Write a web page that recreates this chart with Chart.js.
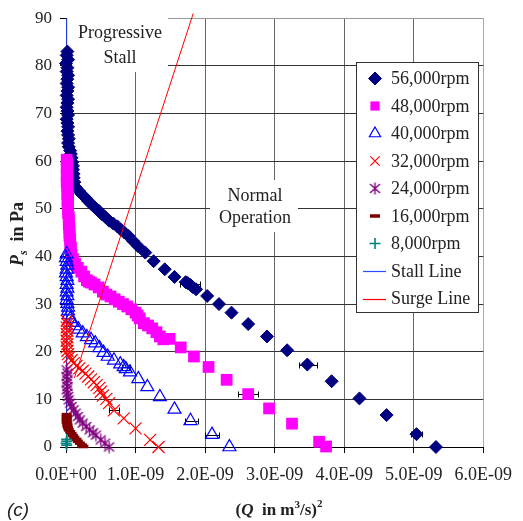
<!DOCTYPE html>
<html>
<head>
<meta charset="utf-8">
<script src="https://cdn.jsdelivr.net/npm/chart.js@4.4.1/dist/chart.umd.min.js"></script>
<style>
html, body { margin: 0; padding: 0; background: #fff; }
canvas { display: block; }
</style>
</head>
<body>
<canvas id="chart" width="523" height="521"></canvas>
<script>
// Q^2 in units of 1E-09 (m3/s)^2, Ps in Pa
const rpm56 = [[0.02,83],[0.01,82.2],[0.03,81.3],[0.00,80.5],[0.02,79.6],[0.01,78.8],[0.03,78],[0.02,77.2],[0.01,76.3],[0.03,75.5],[0.02,74.7],[0.01,73.8],[0.03,73],[0.02,72.2],[0.01,71.3],[0.02,70.5],[0.03,69.7],[0.01,68.8],[0.02,68],[0.03,67.2],[0.02,66.3],[0.03,65.5],[0.04,64.7],[0.03,63.8],[0.04,63],[0.06,62.2],[0.07,61.5],[0.08,60.7],[0.09,59.8],[0.10,59],[0.10,58.2],[0.11,57.3],[0.11,56.5],[0.12,55.6],[0.14,54.5],[0.19,53.7],[0.23,53],[0.28,52.3],[0.32,51.6],[0.37,50.9],[0.42,50.2],[0.47,49.6],[0.52,48.8],[0.57,48.2],[0.62,47.5],[0.68,46.9],[0.74,46.3],[0.79,45.6],[0.84,45],[0.90,44.3],[0.96,43.3],[1.04,42.1],[1.14,40.8],[1.26,39],[1.42,37.3],[1.56,35.7],[1.72,34.6],[1.75,34.4],[1.79,34],[1.82,33.6],[1.87,33.1],[2.03,31.7],[2.20,30],[2.38,28.2],[2.62,25.8],[2.89,23.2],[3.18,20.3],[3.47,17.3],[3.82,13.8],[4.22,10.2],[4.61,6.7],[5.04,2.7],[5.32,0]];
const rpm48 = [[0.01,60.3],[0.02,59.5],[0.01,58.7],[0.02,57.9],[0.01,57.1],[0.02,56.3],[0.01,55.5],[0.02,54.7],[0.02,53.9],[0.02,53.1],[0.03,52.3],[0.02,51.5],[0.03,50.7],[0.03,49.9],[0.03,49.1],[0.04,48.3],[0.04,47.5],[0.04,46.7],[0.05,45.9],[0.05,45.1],[0.05,44.3],[0.06,43.5],[0.06,42.7],[0.07,41.9],[0.07,41.1],[0.08,40.3],[0.10,39.4],[0.13,38.5],[0.17,37.6],[0.22,36.8],[0.26,35.8],[0.30,35],[0.33,34.7],[0.36,34.5],[0.41,34.1],[0.47,33.5],[0.53,32.6],[0.58,32],[0.64,31.6],[0.70,31],[0.76,30.5],[0.82,30],[0.88,29.5],[0.94,28.9],[1.00,28.2],[1.03,27.6],[1.06,27],[1.12,26],[1.18,25.5],[1.24,24.9],[1.30,24.1],[1.35,23.2],[1.40,22.6],[1.49,22.7],[1.65,20.9],[1.84,19],[2.05,16.8],[2.31,14.1],[2.62,11.1],[2.92,8.1],[3.25,4.9],[3.64,1.1],[3.74,0.1]];
const rpm40 = [[0.01,40.5],[0.00,39.7],[0.01,38.9],[0.02,38.1],[0.01,37.3],[0.00,36.5],[0.01,35.7],[0.02,34.9],[0.01,34.1],[0.02,33.3],[0.01,32.5],[0.02,31.7],[0.01,30.9],[0.02,30.1],[0.03,29.3],[0.03,28.5],[0.04,27.7],[0.06,26.9],[0.09,26.1],[0.13,25.4],[0.18,24.7],[0.24,23.9],[0.30,23.1],[0.36,22.5],[0.42,21.8],[0.48,20.8],[0.54,19.8],[0.60,19],[0.69,18.2],[0.78,17.4],[0.83,16.8],[0.86,16.4],[0.92,15.7],[1.04,14.3],[1.17,12.6],[1.35,10.5],[1.56,7.9],[1.79,5.5],[2.10,2.6],[2.35,0]];
const rpm32 = [[0.01,26.5],[0.02,25.8],[0.01,25.1],[0.02,24.4],[0.01,23.7],[0.02,23],[0.01,22.3],[0.02,21.6],[0.01,20.9],[0.02,20.2],[0.03,19.5],[0.05,18.9],[0.08,18.2],[0.11,17.6],[0.15,17],[0.19,16.5],[0.24,16],[0.28,15.4],[0.32,14.8],[0.36,14.2],[0.40,13.6],[0.44,13],[0.48,12.4],[0.50,11.6],[0.53,10.8],[0.58,10.1],[0.62,9.2],[0.69,7.7],[0.83,6],[1.00,3.9],[1.21,1.5],[1.33,0]];
const rpm24 = [[0.01,16.2],[0.02,15.5],[0.01,14.8],[0.02,14.1],[0.01,13.4],[0.02,12.7],[0.01,12],[0.02,11.3],[0.03,10.6],[0.04,9.9],[0.06,9.2],[0.08,8.5],[0.11,7.8],[0.14,7.1],[0.17,6.4],[0.20,5.7],[0.24,5],[0.29,4.3],[0.34,3.6],[0.39,3],[0.43,2.5],[0.50,1.5],[0.56,0.8],[0.62,0]];
const rpm16 = [[0.01,6.8],[0.01,6.4],[0.01,6],[0.01,5.6],[0.01,5.2],[0.02,4.8],[0.02,4.4],[0.03,4],[0.04,3.6],[0.06,3.2],[0.08,2.8],[0.10,2.4],[0.12,2],[0.15,1.6],[0.17,1.2],[0.20,0.8],[0.23,0.4],[0.25,0.1]];
const rpm8 = [[0.01,1.6],[0.01,1.2],[0.00,0.8],[0.01,0.4]];
const stallLine = [[0.01,0],[0.01,90]];
const surgeLine = [[0.12,14.5],[1.83,91]];
// [Q^2, Ps, half width of the bar]
const errorBars = [[1.78,34.3,0.14],[3.48,17.3,0.135],[2.62,11.1,0.14],[1.81,5.5,0.095],[0.69,7.7,0.07],[1.18,25.4,0.09],[0.86,16.8,0.06],[2.10,2.6,0.1],[5.04,2.7,0.08]];

const seriesLabels = ["56,000rpm","48,000rpm","40,000rpm","32,000rpm","24,000rpm","16,000rpm","8,000rpm","Stall Line","Surge Line"];
const xTickLabels = ["0.0E+00","1.0E-09","2.0E-09","3.0E-09","4.0E-09","5.0E-09","6.0E-09"];
const yTickLabels = ["0","10","20","30","40","50","60","70","80","90"];

function makeStar(color) {
    const c = document.createElement("canvas");
    c.width = 13; c.height = 13;
    const g = c.getContext("2d");
    g.strokeStyle = color;
    g.lineWidth = 1.4;
    g.beginPath();
    g.moveTo(6.5, 0.5); g.lineTo(6.5, 12.5);
    g.moveTo(1.5, 2); g.lineTo(11.5, 11);
    g.moveTo(11.5, 2); g.lineTo(1.5, 11);
    g.stroke();
    return c;
}

const toXY = arr => arr.map(d => ({ x: d[0], y: d[1] }));
const serif = "'Liberation Serif', 'Times New Roman', serif";
const ink = "#222";

const markers = [
    { data: rpm56, style: "rectRot", r: 6.5, bw: 1, color: "#000080", fill: "#000080" },
    { data: rpm48, style: "rect", r: 8.3, bw: 0, color: "#ff00ff", fill: "#ff00ff" },
    { data: rpm40, style: "triangle", r: 7.5, bw: 1.2, color: "#0000ff", fill: "rgba(0,0,0,0)" },
    { data: rpm32, style: "crossRot", r: 8.5, bw: 1.2, color: "#ff0000", fill: "#ff0000" },
    { data: rpm24, style: makeStar("#800080"), r: 6, bw: 1, color: "#800080", fill: "#800080" },
    { data: rpm16, style: "line", r: 5, bw: 3.5, color: "#800000", fill: "#800000" },
    { data: rpm8, style: "cross", r: 5.5, bw: 1.6, color: "#008080", fill: "#008080" }
];
const lineColors = ["#2a4dff", "#ff0000"];

const datasets = markers.map((m, i) => ({
    label: seriesLabels[i],
    data: toXY(m.data),
    showLine: false,
    clip: false,
    pointStyle: m.style,
    pointRadius: m.r,
    pointBorderWidth: m.bw,
    pointBorderColor: m.color,
    pointBackgroundColor: m.fill,
    order: 8 - i
}));
datasets.push({
    label: seriesLabels[7], type: "line", data: toXY(stallLine), showLine: true,
    borderColor: lineColors[0], borderWidth: 1, pointRadius: 0, fill: false, order: 9
});
datasets.push({
    label: seriesLabels[8], type: "line", data: toXY(surgeLine), showLine: true,
    borderColor: lineColors[1], borderWidth: 1, pointRadius: 0, fill: false, order: 0,
    clip: { left: 0, top: 6, right: 0, bottom: 0 }
});

// white boxes with the two region notes, and the error bars
const notesPlugin = {
    id: "notes",
    beforeDatasetsDraw(chart) {
        const ctx = chart.ctx;
        ctx.save();
        ctx.fillStyle = "#fff";
        ctx.fillRect(67, 17, 101, 55);
        ctx.fillRect(210, 180, 88, 52);
        ctx.fillStyle = ink;
        ctx.font = "18px " + serif;
        ctx.textAlign = "center";
        ctx.textBaseline = "alphabetic";
        ctx.fillText("Progressive", 120, 38);
        ctx.fillText("Stall", 120, 63);
        ctx.fillText("Normal", 255, 201);
        ctx.fillText("Operation", 255, 223);
        const xs = chart.scales.x, ys = chart.scales.y;
        ctx.strokeStyle = "#000";
        ctx.lineWidth = 1;
        ctx.beginPath();
        errorBars.forEach(e => {
            const x1 = Math.round(xs.getPixelForValue(e[0] - e[2])) + 0.5;
            const x2 = Math.round(xs.getPixelForValue(e[0] + e[2])) + 0.5;
            const y = Math.round(ys.getPixelForValue(e[1])) + 0.5;
            ctx.moveTo(x1, y); ctx.lineTo(x2, y);
            ctx.moveTo(x1, y - 3); ctx.lineTo(x1, y + 3);
            ctx.moveTo(x2, y - 3); ctx.lineTo(x2, y + 3);
        });
        ctx.stroke();
        ctx.restore();
    }
};

function drawParts(ctx, parts, x, y) {
    let w = 0;
    parts.forEach(p => { ctx.font = p.f; w += ctx.measureText(p.t).width; });
    let cx = x - w / 2;
    parts.forEach(p => {
        ctx.font = p.f;
        ctx.fillText(p.t, cx, y + (p.dy || 0));
        cx += ctx.measureText(p.t).width;
    });
}

const framePlugin = {
    id: "frame",
    afterDraw(chart) {
        const ctx = chart.ctx;
        ctx.save();
        ctx.fillStyle = ink;
        ctx.textAlign = "left";
        ctx.textBaseline = "alphabetic";
        drawParts(ctx, [
            { t: "(", f: "bold 17px " + serif },
            { t: "Q", f: "italic bold 17px " + serif },
            { t: "  in m", f: "bold 17px " + serif },
            { t: "3", f: "bold 11px " + serif, dy: -7 },
            { t: "/s)", f: "bold 17px " + serif },
            { t: "2", f: "bold 11px " + serif, dy: -8 }
        ], 279, 515);
        ctx.save();
        ctx.translate(23, 234);
        ctx.rotate(-Math.PI / 2);
        drawParts(ctx, [
            { t: "P", f: "italic bold 18px " + serif },
            { t: "s", f: "italic bold 12px " + serif, dy: 4 },
            { t: "  in Pa", f: "bold 18px " + serif }
        ], 0, 0);
        ctx.restore();
        ctx.font = "italic 19px 'Liberation Sans', Arial, sans-serif";
        ctx.fillText("(c)", 7, 516);

        // legend box inside the plot
        const lx = 356, ly = 62, lw = 122, lh = 250;
        ctx.fillStyle = "#fff";
        ctx.fillRect(lx, ly, lw, lh);
        ctx.strokeStyle = "#333";
        ctx.lineWidth = 1;
        ctx.strokeRect(lx + 0.5, ly + 0.5, lw, lh);
        ctx.font = "18px " + serif;
        ctx.textBaseline = "middle";
        chart.data.datasets.forEach((ds, i) => {
            const y = ly + 16.5 + i * 27.5;
            if (i >= markers.length) {
                ctx.strokeStyle = lineColors[i - markers.length];
                ctx.lineWidth = 1.2;
                ctx.beginPath();
                ctx.moveTo(363, Math.round(y) + 0.5);
                ctx.lineTo(386, Math.round(y) + 0.5);
                ctx.stroke();
            } else {
                const m = markers[i];
                ctx.fillStyle = m.fill;
                ctx.strokeStyle = m.color;
                ctx.lineWidth = m.bw;
                Chart.helpers.drawPoint(ctx, {
                    pointStyle: m.style, radius: Math.min(m.r, 6.5),
                    borderWidth: m.bw, rotation: 0
                }, 375, y);
            }
            ctx.fillStyle = ink;
            ctx.fillText(ds.label, 391, y + 1);
        });
        ctx.restore();
    }
};

new Chart(document.getElementById("chart"), {
    type: "scatter",
    data: { datasets: datasets },
    options: {
        responsive: false,
        animation: false,
        devicePixelRatio: 1,
        layout: { padding: { left: 0, top: 16, right: 32, bottom: 30 } },
        plugins: { legend: { display: false }, tooltip: { enabled: false } },
        scales: {
            x: {
                type: "linear", min: 0, max: 6,
                afterFit(scale) { scale.height = 44; },
                ticks: {
                    stepSize: 1, padding: 11, color: ink, font: { family: serif, size: 18 },
                    maxRotation: 0,
                    callback: (v, i) => xTickLabels[i]
                },
                grid: {
                    color: c => (c.tick && c.tick.value === 6 ? "#aaa" : "#666"),
                    tickColor: "#000", tickLength: 6, lineWidth: 1
                },
                border: { color: "#000", width: 1 }
            },
            y: {
                type: "linear", min: 0, max: 90,
                afterFit(scale) { scale.width = 66; },
                ticks: {
                    stepSize: 10, padding: 8, color: ink, font: { family: serif, size: 17 },
                    callback: (v, i) => yTickLabels[i]
                },
                grid: {
                    color: c => (c.tick && c.tick.value === 90 ? "#999" : "#333"),
                    tickColor: "#000", tickLength: 6, lineWidth: 1
                },
                border: { color: "#000", width: 1 }
            }
        }
    },
    plugins: [notesPlugin, framePlugin]
});
</script>
</body>
</html>
